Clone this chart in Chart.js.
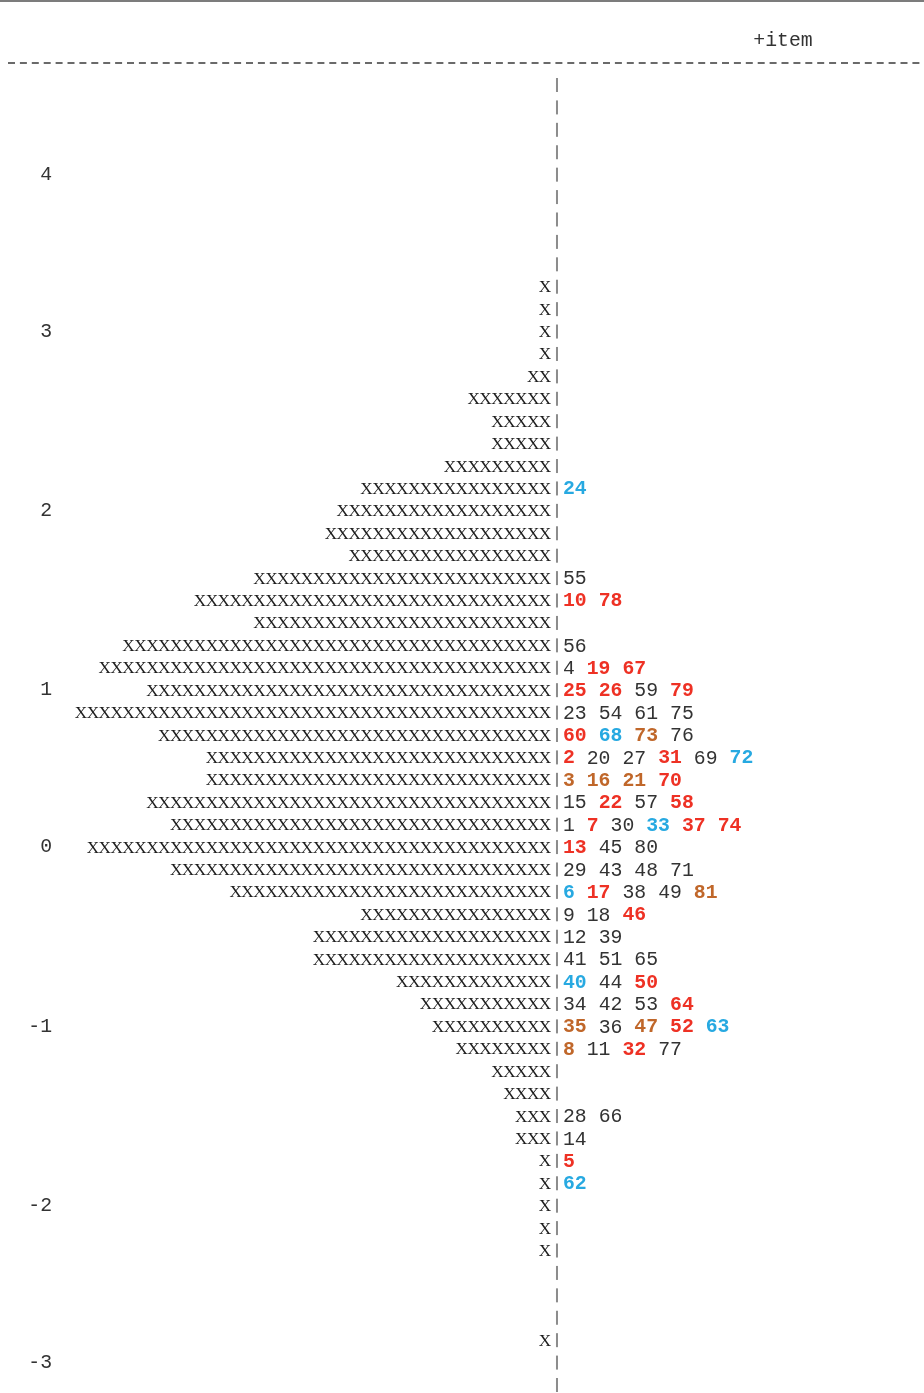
<!DOCTYPE html>
<html>
<head>
<meta charset="UTF-8">
<title>Person-item map</title>
<script src="https://cdn.jsdelivr.net/npm/chart.js"></script>
<style>
  html, body { margin: 0; padding: 0; background: #fff; }
  #wrap { position: relative; width: 924px; height: 1393px; }
</style>
</head>
<body>
<div id="wrap"><canvas id="map"></canvas></div>
<script>
// one entry per text row of the map, top (high logit) to bottom
const personCounts = [
  0, 0, 0, 0, 0, 0, 0, 0, 0, 1,
  1, 1, 1, 2, 7, 5, 5, 9, 16, 18,
  19, 17, 25, 30, 25, 36, 38, 34, 40, 33,
  29, 29, 34, 32, 39, 32, 27, 16, 20, 20,
  13, 11, 10, 8, 5, 4, 3, 3, 1, 1,
  1, 1, 1, 0, 0, 0, 1, 0, 0
];

// logit tick labels and the rows they sit on
const tickRows = [4, 11, 19, 27, 34, 42, 50, 57];
const tickLabels = ['4', '3', '2', '1', '0', '-1', '-2', '-3'];

// items placed to the right of the axis
const itemRows = [18, 22, 23, 25, 26, 27, 28, 29, 30, 31, 32, 33, 34,
                  35, 36, 37, 38, 39, 40, 41, 42, 43, 46, 47, 48, 49];
const itemGroups = [
  [24], [55], [10, 78], [56], [4, 19, 67], [25, 26, 59, 79], [23, 54, 61, 75],
  [60, 68, 73, 76], [2, 20, 27, 31, 69, 72], [3, 16, 21, 70], [15, 22, 57, 58],
  [1, 7, 30, 33, 37, 74], [13, 45, 80], [29, 43, 48, 71], [6, 17, 38, 49, 81],
  [9, 18, 46], [12, 39], [41, 51, 65], [40, 44, 50], [34, 42, 53, 64],
  [35, 36, 47, 52, 63], [8, 11, 32, 77], [28, 66], [14], [5], [62]
];

const redItems = [2, 5, 7, 10, 13, 17, 19, 22, 25, 26, 31, 32, 37, 46, 50, 52, 58, 60, 64, 67, 70, 74, 78, 79];
const blueItems = [6, 24, 33, 40, 62, 63, 68, 72];
const orangeItems = [3, 8, 16, 21, 35, 47, 73, 81];

const MONO = '"Liberation Mono", "DejaVu Sans Mono", monospace';
const SERIF = '"Liberation Serif", "DejaVu Serif", serif';
const FONT_PX = 19.8;

const rowLabels = personCounts.map((_, i) => {
  const k = tickRows.indexOf(i);
  return k >= 0 ? tickLabels[k] : '';
});

function itemColor(n) {
  if (redItems.includes(n)) return '#ee3124';
  if (blueItems.includes(n)) return '#27a9e1';
  if (orangeItems.includes(n)) return '#c0672a';
  return null;
}

// draws the text parts of the map from the scales
const textMap = {
  id: 'textMap',
  beforeDraw(chart) {
    const ctx = chart.ctx;
    const x = chart.scales.x;
    ctx.save();
    ctx.fillStyle = '#7c7c7c';
    ctx.fillRect(0, 0, chart.width, 2);
    ctx.strokeStyle = '#3a3a3a';
    ctx.lineWidth = 1.6;
    ctx.setLineDash([7, 4.9]);
    ctx.beginPath();
    ctx.moveTo(8, 63);
    ctx.lineTo(chart.width, 63);
    ctx.stroke();
    ctx.setLineDash([]);
    ctx.font = FONT_PX + 'px ' + MONO;
    ctx.fillStyle = '#333';
    ctx.textAlign = 'left';
    ctx.textBaseline = 'middle';
    ctx.fillText('+item', x.getPixelForValue(17), 41);
    ctx.restore();
  },
  afterDatasetsDraw(chart) {
    const ctx = chart.ctx;
    const x = chart.scales.x;
    const y = chart.scales.y;
    ctx.save();
    ctx.textBaseline = 'middle';

    // person X's (serif, like the typewriter face) and the axis bar on every row
    ctx.textAlign = 'center';
    personCounts.forEach((n, i) => {
      const py = y.getPixelForValue(i);
      ctx.font = '17.2px ' + SERIF;
      ctx.fillStyle = '#1e1e1e';
      for (let k = 0; k < n; k++) {
        ctx.fillText('X', x.getPixelForValue(-k - 0.5), py + 1);
      }
      ctx.fillStyle = '#8c8c8c';
      ctx.fillRect(x.getPixelForValue(0.5) - 1, py - 7, 2, 14);
    });

    // item numbers
    ctx.textAlign = 'left';
    itemRows.forEach((row, g) => {
      const py = y.getPixelForValue(row);
      let cell = 1;
      itemGroups[g].forEach(n => {
        const s = String(n);
        const c = itemColor(n);
        ctx.font = (c ? 'bold ' : '') + FONT_PX + 'px ' + MONO;
        ctx.fillStyle = c || '#333';
        ctx.fillText(s, x.getPixelForValue(cell), py + 1);
        cell += s.length + 1;
      });
    });
    ctx.restore();
  }
};

new Chart(document.getElementById('map'), {
  type: 'bar',
  data: {
    labels: rowLabels,
    datasets: [{
      label: 'persons',
      data: personCounts.map(n => -n),
      backgroundColor: 'rgba(0,0,0,0)',
      borderWidth: 0
    }]
  },
  options: {
    indexAxis: 'y',
    responsive: true,
    maintainAspectRatio: false,
    animation: false,
    layout: { padding: { top: 85, bottom: 8, left: 0, right: 0 } },
    plugins: { legend: { display: false }, tooltip: { enabled: false } },
    scales: {
      x: { type: 'linear', display: false, min: -41.26, max: 31.34 },
      y: {
        type: 'category',
        offset: false,
        grid: { display: false, drawTicks: false },
        border: { display: false },
        afterFit: (scale) => {
          scale.width = 60;
          scale.paddingTop = 0;
          scale.paddingBottom = 0;
        },
        ticks: {
          autoSkip: false,
          padding: 8,
          color: '#333',
          font: { family: MONO, size: FONT_PX },
          callback: (v, i) => rowLabels[i] === '' ? null : rowLabels[i]
        }
      }
    }
  },
  plugins: [textMap]
});
</script>
</body>
</html>
